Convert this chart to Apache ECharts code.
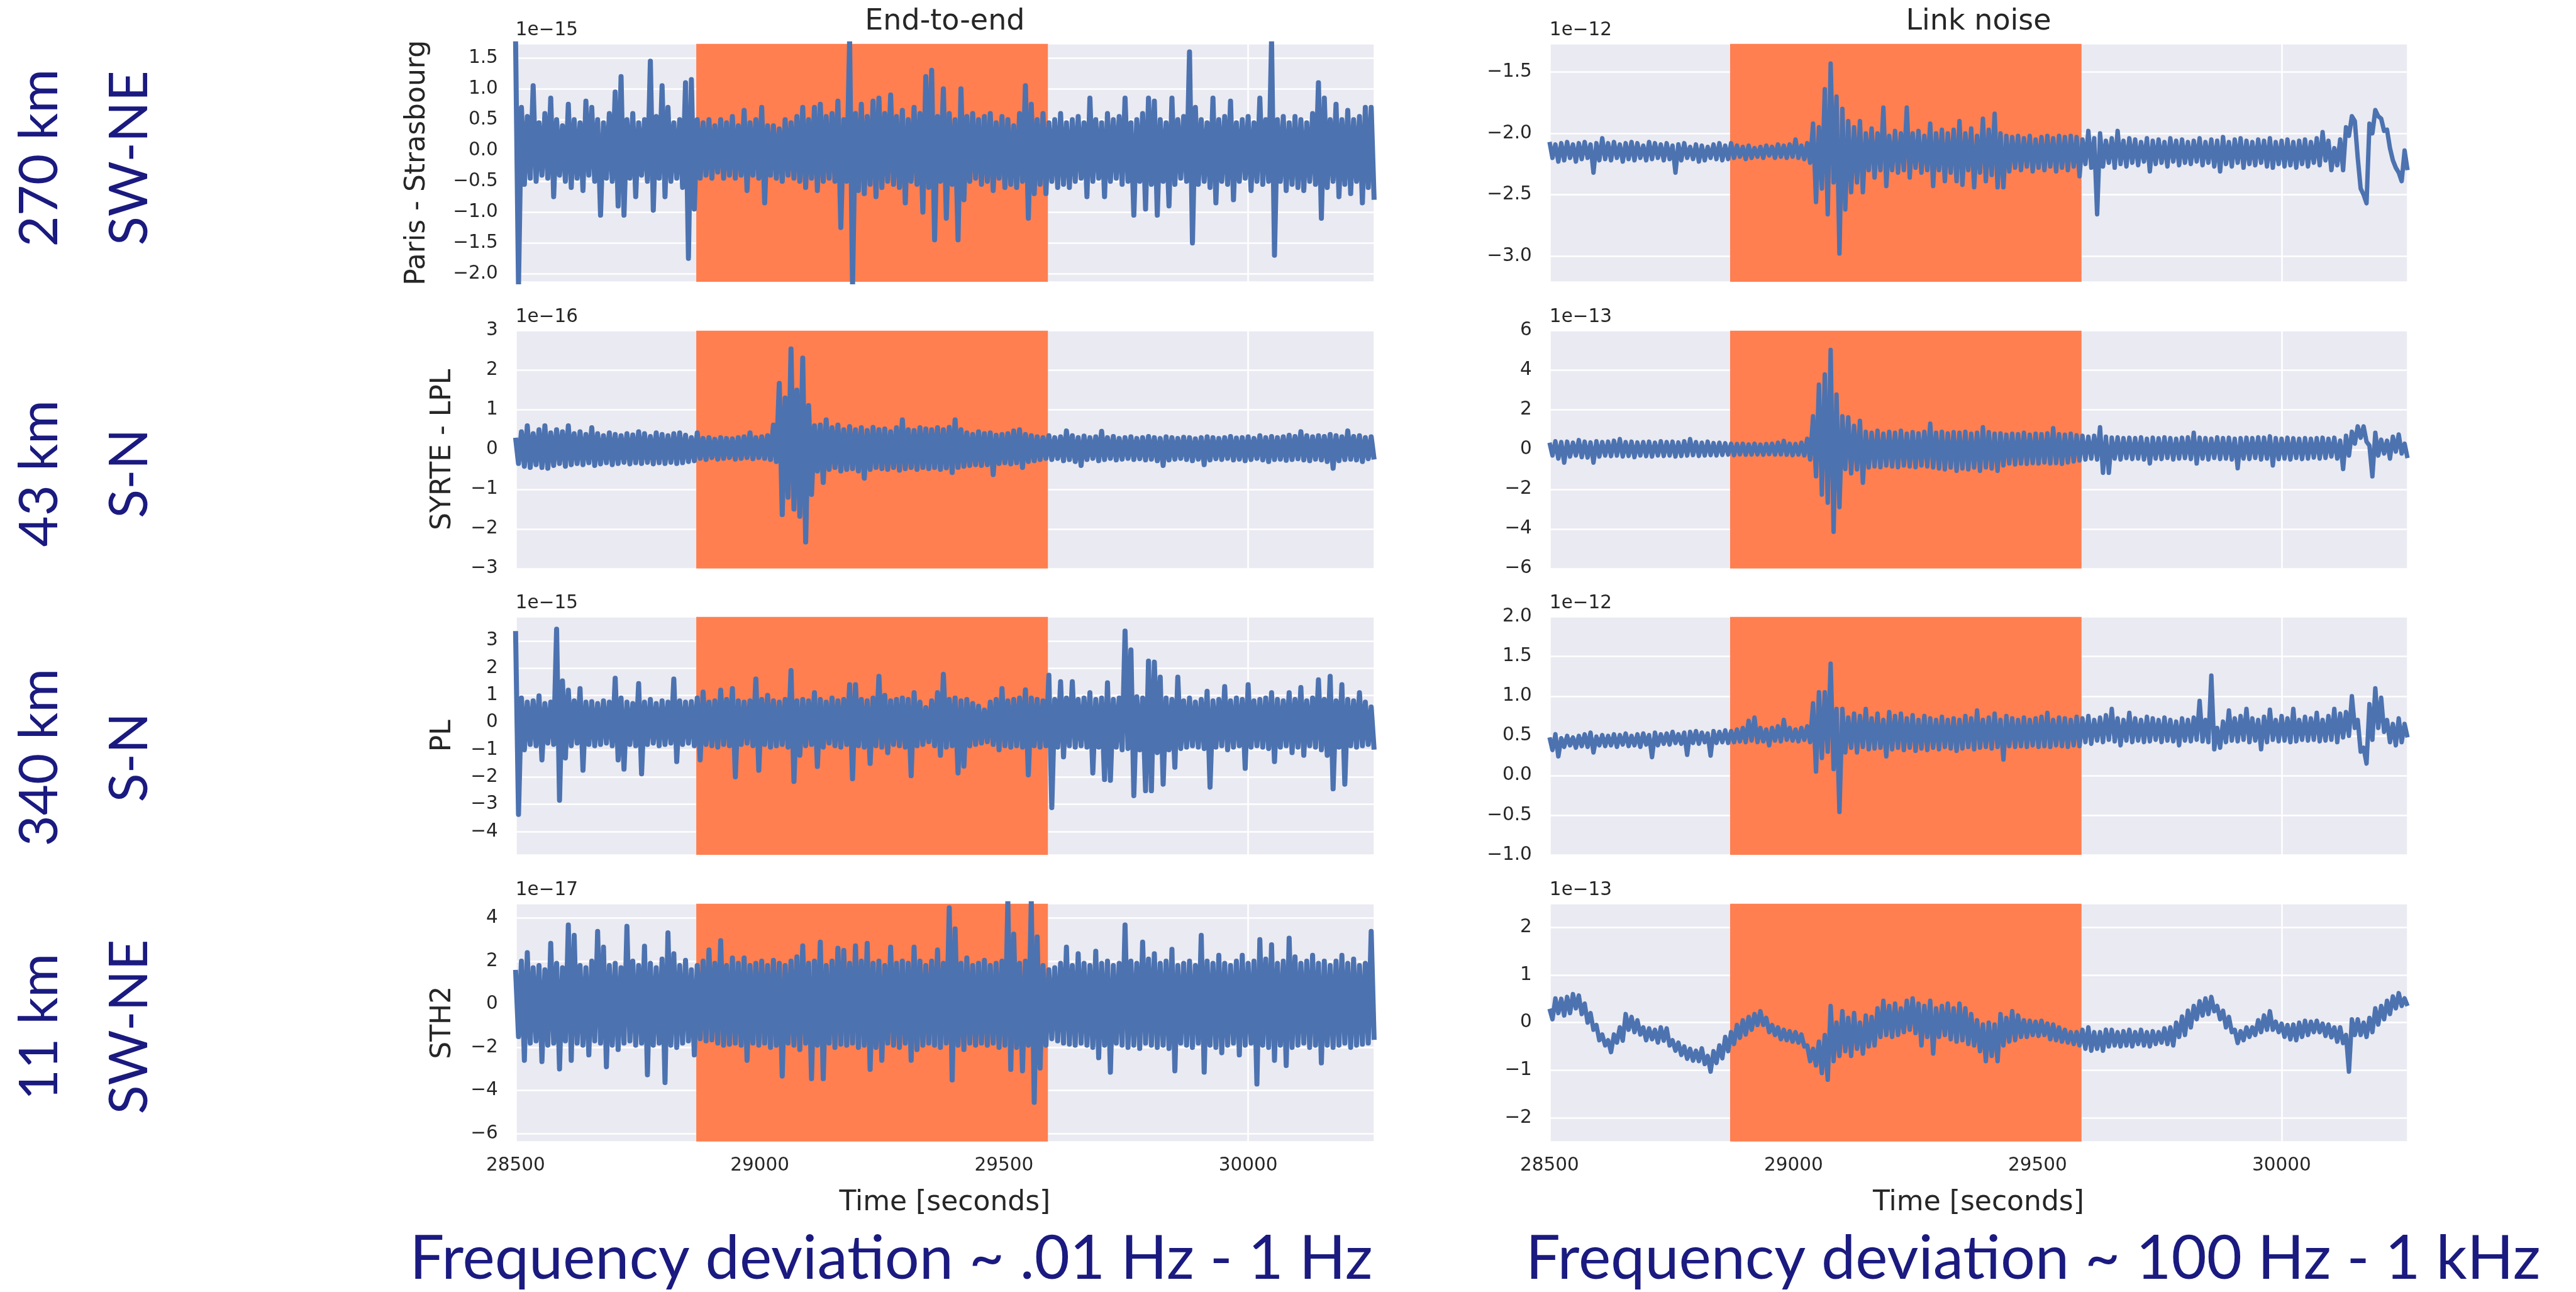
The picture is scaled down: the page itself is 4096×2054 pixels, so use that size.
<!DOCTYPE html>
<html>
<head>
<meta charset="utf-8">
<script src="https://cdn.jsdelivr.net/npm/echarts@6/dist/echarts.min.js"></script>
<style>
  html, body { margin: 0; padding: 0; background: #ffffff; }
  #chart { width: 4096px; height: 2054px; }
</style>
</head>
<body>
<div id="chart"></div>
<script>
// Each trace is stored as an envelope: for every 12 s sample, the upper and
// lower extent of the fractional frequency signal (in units of the axis offset).
const tStart = 28500;
const tStep = 12;
const xMin = 28500;
const xMax = 30258;
const xTicks = [28500, 29000, 29500, 30000];
const eventStart = 28870;
const eventEnd = 29590;

const columnTitles = ['End-to-end', 'Link noise'];
const rowNames = ['Paris - Strasbourg', 'SYRTE - LPL', 'PL', 'STH2'];
const distances = ['270 km', '43 km', '340 km', '11 km'];
const directions = ['SW-NE', 'S-N', 'S-N', 'SW-NE'];
const bandNotes = ['Frequency deviation ~ .01 Hz - 1 Hz', 'Frequency deviation ~ 100 Hz - 1 kHz'];
const xAxisTitle = 'Time [seconds]';

// axis offsets, y ranges and tick steps (row-major: left column, right column)
const offsetLabels = ['1e\u221215', '1e\u221212', '1e\u221216', '1e\u221213', '1e\u221215', '1e\u221212', '1e\u221217', '1e\u221213'];
const yRanges = [[-2.13, 1.73], [-3.21, -1.27], [-3, 3], [-6, 6], [-4.85, 3.88], [-1, 2], [-6.37, 4.67], [-2.5, 2.5]];
const yTickSteps = [0.5, 0.5, 1, 2, 1, 0.5, 2, 1];
const yTickDigits = [1, 1, 0, 0, 0, 1, 0, 0];

// Paris - Strasbourg, end-to-end (1e-15)
const parisE2EHi = [
  1.8, 0.7, 0.55, 1.05, 0.45, 0.6, 0.85, 0.5, 0.4, 0.75,
  0.5, 0.45, 0.8, 0.7, 0.5, 0.45, 0.6, 0.95, 1.2, 0.5,
  0.6, 0.45, 0.5, 1.45, 0.55, 1.05, 0.7, 0.45, 0.5, 1.1,
  1.15, 0.5, 0.45, 0.5, 0.4, 0.5, 0.45, 0.55, 0.4, 0.65,
  0.45, 0.5, 0.7, 0.4, 0.4, 0.35, 0.5, 0.45, 0.55, 0.7,
  0.5, 0.7, 0.75, 0.55, 0.6, 0.8, 0.5, 1.8, 0.6, 0.75,
  0.55, 0.8, 0.85, 0.6, 0.9, 0.55, 0.65, 0.5, 0.7, 0.6,
  1.2, 1.3, 0.55, 1.0, 0.6, 0.5, 1.0, 0.55, 0.6, 0.5,
  0.55, 0.6, 0.45, 0.55, 0.5, 0.4, 0.6, 1.05, 0.75, 0.5,
  0.6, 0.45, 0.5, 0.6, 0.45, 0.5, 0.55, 0.45, 0.85, 0.5,
  0.45, 0.6, 0.5, 0.55, 0.85, 0.45, 0.5, 0.6, 0.85, 0.8,
  0.5, 0.45, 0.85, 0.5, 0.55, 1.6, 0.7, 0.5, 0.45, 0.85,
  0.5, 0.55, 0.8, 0.45, 0.5, 0.55, 0.45, 0.85, 0.5, 1.8,
  0.5, 0.55, 0.45, 0.55, 0.5, 0.45, 0.6, 1.1, 0.85, 0.5,
  0.75, 0.5, 0.65, 0.5, 0.55, 0.7, 0.7
];
const parisE2ELo = [
  -2.2, -0.55, -0.45, -0.5, -0.4, -0.45, -0.75, -0.4, -0.5, -0.6,
  -0.45, -0.65, -0.4, -0.5, -1.05, -0.45, -0.5, -0.9, -1.05, -0.45,
  -0.75, -0.4, -0.5, -0.97, -0.45, -0.75, -0.5, -0.45, -0.6, -1.75,
  -0.95, -0.45, -0.4, -0.45, -0.35, -0.45, -0.4, -0.45, -0.4, -0.65,
  -0.4, -0.45, -0.85, -0.4, -0.45, -0.5, -0.4, -0.45, -0.5, -0.6,
  -0.45, -0.65, -0.5, -0.45, -0.5, -1.25, -0.5, -2.2, -0.65, -0.7,
  -0.55, -0.75, -0.6, -0.5, -0.55, -0.6, -0.85, -0.5, -0.55, -1.0,
  -0.6, -1.45, -0.5, -1.1, -0.55, -1.45, -0.8, -0.5, -0.45, -0.55,
  -0.5, -0.65, -0.45, -0.6, -0.55, -0.6, -0.5, -1.1, -0.7, -0.55,
  -0.7, -0.5, -0.6, -0.55, -0.6, -0.5, -0.45, -0.75, -0.5, -0.45,
  -0.75, -0.5, -0.45, -0.55, -0.5, -1.05, -0.5, -0.95, -0.55, -1.05,
  -0.5, -0.9, -0.55, -0.45, -0.5, -1.5, -0.55, -0.5, -0.6, -0.85,
  -0.5, -0.55, -0.8, -0.5, -0.45, -0.65, -0.5, -0.55, -0.5, -1.7,
  -0.5, -0.65, -0.55, -0.6, -0.65, -0.5, -0.55, -1.1, -0.6, -0.5,
  -0.75, -0.55, -0.7, -0.5, -0.85, -0.6, -0.8
];

// Paris - Strasbourg, link noise (1e-12)
const parisLinkHi = [
  -2.07, -2.09, -2.08, -2.07, -2.09, -2.08, -2.07, -2.09, -2.08, -2.04,
  -2.08, -2.07, -2.09, -2.08, -2.07, -2.08, -2.1, -2.07, -2.08, -2.09,
  -2.08, -2.1, -2.09, -2.08, -2.11, -2.09, -2.1, -2.11, -2.09, -2.08,
  -2.1, -2.08, -2.1, -2.11, -2.1, -2.12, -2.11, -2.1, -2.11, -2.09,
  -2.1, -2.09, -2.05, -2.1, -2.08, -1.92, -1.95, -1.64, -1.43, -1.7,
  -1.8, -1.9, -1.95, -1.9, -2.0, -1.96, -2.0, -1.79, -2.02, -1.98,
  -2.0, -1.79, -2.0, -1.98, -2.02, -1.92, -2.0, -1.97, -2.0, -1.97,
  -1.9, -2.0, -1.96, -2.02, -1.88, -1.97, -1.84, -2.0, -2.02, -2.03,
  -2.02, -2.04, -2.02, -2.05, -2.03, -2.02, -2.04, -2.02, -2.03, -2.02,
  -2.03, -2.05, -1.98, -2.04, -2.0, -2.06, -2.04, -1.98, -2.06, -2.04,
  -2.05, -2.07, -2.04, -2.06, -2.05, -2.07, -2.04, -2.06, -2.05, -2.07,
  -2.06, -2.04, -2.07, -2.05, -2.06, -2.03, -2.07, -2.05, -2.04, -2.06,
  -2.07, -2.05, -2.06, -2.04, -2.07, -2.06, -2.05, -2.07, -2.06, -2.05,
  -2.07, -2.04, -1.99, -2.06, -2.12, -2.05, -1.95, -1.86, -2.2, -2.5,
  -1.92, -1.81, -1.88, -1.97, -2.22, -2.32, -2.14
];
const parisLinkLo = [
  -2.2, -2.23, -2.22, -2.2, -2.23, -2.21, -2.2, -2.32, -2.22, -2.21,
  -2.22, -2.2, -2.23, -2.21, -2.22, -2.2, -2.22, -2.21, -2.2, -2.22,
  -2.21, -2.32, -2.22, -2.2, -2.21, -2.23, -2.22, -2.2, -2.21, -2.22,
  -2.21, -2.2, -2.19, -2.21, -2.2, -2.19, -2.2, -2.18, -2.2, -2.19,
  -2.2, -2.19, -2.2, -2.21, -2.24, -2.56, -2.45, -2.66, -2.4, -2.98,
  -2.62, -2.48, -2.4, -2.48, -2.3, -2.36, -2.3, -2.43, -2.3, -2.32,
  -2.3, -2.36, -2.28, -2.32, -2.3, -2.43, -2.3, -2.39, -2.32, -2.39,
  -2.42, -2.3, -2.44, -2.32, -2.39, -2.34, -2.44, -2.44, -2.31, -2.28,
  -2.3, -2.27, -2.31, -2.28, -2.3, -2.27, -2.31, -2.28, -2.3, -2.27,
  -2.35, -2.25, -2.28, -2.66, -2.27, -2.24, -2.28, -2.25, -2.27, -2.24,
  -2.26, -2.23, -2.31, -2.25, -2.24, -2.27, -2.23, -2.26, -2.24, -2.25,
  -2.23, -2.26, -2.24, -2.27, -2.31, -2.25, -2.27, -2.24, -2.28, -2.25,
  -2.26, -2.24, -2.27, -2.28, -2.25, -2.27, -2.26, -2.28, -2.25, -2.27,
  -2.24, -2.26, -2.22, -2.3, -2.26, -2.3, -2.02, -1.9, -2.45, -2.57,
  -2.0, -1.86, -1.98, -2.12, -2.28, -2.39, -2.3
];

// SYRTE - LPL, end-to-end (1e-16)
const syrteE2EHi = [
  0.3, 0.45, 0.6, 0.4, 0.5, 0.6, 0.42, 0.5, 0.45, 0.6,
  0.4, 0.45, 0.38, 0.55, 0.4, 0.35, 0.42, 0.38, 0.35, 0.4,
  0.37, 0.45, 0.4, 0.33, 0.42, 0.38, 0.35, 0.4, 0.42, 0.36,
  0.3, 0.42, 0.28, 0.3, 0.26, 0.3, 0.28, 0.27, 0.3, 0.32,
  0.42, 0.3, 0.32, 0.35, 0.62, 1.67, 1.3, 2.54, 1.5, 2.31,
  1.11, 0.6, 0.62, 0.75, 0.55, 0.62, 0.5, 0.58, 0.5, 0.55,
  0.48, 0.56, 0.5, 0.52, 0.45, 0.55, 0.75, 0.5, 0.48, 0.55,
  0.52, 0.5, 0.55, 0.5, 0.56, 0.75, 0.5, 0.42, 0.38, 0.45,
  0.4, 0.42, 0.36, 0.38, 0.4, 0.47, 0.5, 0.38, 0.35, 0.32,
  0.3, 0.35, 0.3, 0.32, 0.47, 0.35, 0.3, 0.34, 0.3, 0.32,
  0.46, 0.3, 0.33, 0.28, 0.3, 0.32, 0.28, 0.3, 0.33, 0.3,
  0.28, 0.32, 0.3, 0.28, 0.31, 0.3, 0.27, 0.3, 0.32, 0.3,
  0.28, 0.3, 0.33, 0.29, 0.3, 0.32, 0.28, 0.35, 0.3, 0.33,
  0.3, 0.32, 0.36, 0.33, 0.45, 0.35, 0.32, 0.35, 0.33, 0.38,
  0.35, 0.32, 0.47, 0.33, 0.35, 0.3, 0.32
];
const syrteE2ELo = [
  -0.35, -0.42, -0.45, -0.38, -0.45, -0.47, -0.4, -0.35, -0.42, -0.38,
  -0.35, -0.38, -0.33, -0.4, -0.36, -0.33, -0.38, -0.35, -0.32, -0.36,
  -0.33, -0.35, -0.32, -0.36, -0.33, -0.35, -0.32, -0.35, -0.33, -0.3,
  -0.28, -0.22, -0.25, -0.2, -0.24, -0.22, -0.2, -0.24, -0.22, -0.2,
  -0.23, -0.2, -0.22, -0.25, -0.3, -1.64, -1.2, -1.5, -1.68, -2.33,
  -1.13, -0.54, -0.83, -0.5, -0.45, -0.54, -0.5, -0.48, -0.54, -0.72,
  -0.5, -0.45, -0.48, -0.5, -0.45, -0.52, -0.48, -0.45, -0.5, -0.45,
  -0.48, -0.45, -0.5, -0.46, -0.58, -0.45, -0.42, -0.4, -0.38, -0.4,
  -0.38, -0.63, -0.35, -0.33, -0.36, -0.33, -0.45, -0.3, -0.28, -0.25,
  -0.22, -0.25, -0.22, -0.28, -0.25, -0.3, -0.4, -0.25, -0.22, -0.28,
  -0.25, -0.22, -0.26, -0.24, -0.22, -0.25, -0.23, -0.26, -0.24, -0.28,
  -0.4, -0.26, -0.24, -0.22, -0.25, -0.28, -0.24, -0.38, -0.26, -0.23,
  -0.25, -0.22, -0.26, -0.24, -0.28, -0.25, -0.22, -0.26, -0.3, -0.25,
  -0.24, -0.27, -0.25, -0.23, -0.26, -0.28, -0.24, -0.26, -0.3, -0.47,
  -0.28, -0.25, -0.24, -0.26, -0.3, -0.23, -0.25
];

// SYRTE - LPL, link noise (1e-13)
const syrteLinkHi = [
  0.35, 0.42, 0.38, 0.4, 0.35, 0.48, 0.4, 0.36, 0.42, 0.38,
  0.4, 0.45, 0.53, 0.38, 0.4, 0.36, 0.38, 0.4, 0.35, 0.42,
  0.38, 0.4, 0.36, 0.42, 0.53, 0.38, 0.35, 0.4, 0.33, 0.35,
  0.32, 0.3, 0.28, 0.3, 0.26, 0.3, 0.25, 0.28, 0.3, 0.35,
  0.44, 0.3, 0.28, 0.35, 0.55, 1.68, 3.28, 3.79, 5.03, 2.78,
  1.68, 1.63, 1.2, 1.45, 0.9, 0.85, 0.95, 0.8, 0.9, 0.85,
  0.95, 0.8, 0.88, 0.82, 0.9, 1.31, 0.85, 0.9, 0.82, 0.88,
  0.85, 0.9, 0.8, 0.85, 1.13, 0.88, 0.8, 0.82, 0.75, 0.8,
  0.78, 0.85, 0.75, 0.8, 0.78, 0.82, 1.08, 0.78, 0.75, 0.8,
  0.72, 0.7, 0.65, 0.7, 1.13, 0.65, 0.6, 0.62, 0.58, 0.6,
  0.58, 0.62, 0.55, 0.6, 0.57, 0.62, 0.58, 0.55, 0.6, 0.62,
  0.85, 0.6, 0.58, 0.55, 0.62, 0.58, 0.6, 0.55, 0.58, 0.6,
  0.58, 0.62, 0.6, 0.67, 0.58, 0.55, 0.6, 0.57, 0.55, 0.58,
  0.55, 0.58, 0.6, 0.55, 0.6, 0.45, 0.7, 0.9, 1.17, 1.17,
  0.2, 0.85, 0.5, 0.45, 0.65, 0.76, 0.3
];
const syrteLinkLo = [
  -0.3, -0.45, -0.66, -0.35, -0.3, -0.38, -0.4, -0.66, -0.35, -0.3,
  -0.33, -0.3, -0.35, -0.32, -0.38, -0.3, -0.33, -0.35, -0.3, -0.32,
  -0.3, -0.35, -0.32, -0.3, -0.28, -0.32, -0.3, -0.28, -0.3, -0.27,
  -0.25, -0.28, -0.24, -0.26, -0.25, -0.24, -0.26, -0.23, -0.25, -0.24,
  -0.26, -0.28, -0.25, -0.3, -0.5, -1.35, -2.27, -2.68, -4.15, -2.9,
  -0.98, -1.2, -1.0, -1.67, -0.9, -0.85, -0.89, -0.8, -0.85, -0.89,
  -0.8, -0.85, -0.89, -0.8, -0.85, -0.9, -0.95, -1.0, -0.9, -1.07,
  -0.95, -1.0, -0.9, -1.07, -0.9, -0.95, -1.07, -0.8, -0.7, -0.75,
  -0.7, -0.72, -0.68, -0.7, -0.65, -0.7, -0.68, -0.72, -0.65, -0.6,
  -0.55, -0.5, -0.45, -0.5, -1.17, -1.17, -0.45, -0.5, -0.43, -0.48,
  -0.45, -0.5, -0.7, -0.45, -0.48, -0.42, -0.5, -0.45, -0.43, -0.48,
  -0.7, -0.45, -0.5, -0.42, -0.48, -0.45, -0.5, -0.94, -0.45, -0.48,
  -0.42, -0.5, -0.45, -0.8, -0.48, -0.45, -0.5, -0.42, -0.48, -0.45,
  -0.4, -0.45, -0.42, -0.35, -0.45, -0.98, -0.3, 0.3, 0.6, 0.4,
  -1.35, -0.3, -0.2, -0.45, -0.1, -0.2, -0.43
];

// PL, end-to-end (1e-15)
const plE2EHi = [
  3.36, 0.9, 0.75, 0.8, 0.98, 0.7, 0.75, 3.43, 1.53, 1.19,
  0.8, 1.25, 0.75, 0.77, 0.7, 0.8, 0.75, 1.63, 0.9, 0.75,
  0.7, 1.43, 0.75, 0.85, 0.7, 0.8, 0.75, 1.6, 0.8, 0.75,
  0.77, 0.9, 1.12, 0.75, 0.8, 1.19, 0.85, 1.25, 0.8, 0.75,
  0.8, 1.6, 0.85, 1.0, 0.8, 0.75, 0.85, 1.91, 0.8, 0.85,
  0.8, 1.1, 0.85, 0.75, 0.9, 0.8, 0.85, 1.39, 1.39, 0.85,
  0.8, 0.9, 1.7, 1.0, 0.8, 0.85, 0.9, 0.85, 1.1, 0.75,
  0.55, 0.8, 1.1, 1.77, 0.85, 0.9, 0.8, 0.85, 0.7, 0.6,
  0.46, 0.75, 0.85, 1.25, 0.8, 0.85, 0.9, 1.2, 0.9, 0.85,
  0.8, 1.74, 0.85, 1.5, 0.9, 1.5, 0.85, 0.9, 1.1, 0.85,
  0.9, 1.46, 0.85, 0.9, 3.36, 2.67, 0.95, 0.9, 2.26, 2.22,
  1.67, 0.9, 0.85, 1.67, 0.8, 0.9, 0.75, 0.85, 1.15, 0.8,
  0.85, 1.32, 0.8, 0.9, 0.85, 1.39, 0.8, 0.85, 0.9, 1.1,
  0.85, 0.8, 1.1, 0.85, 1.29, 0.8, 0.9, 1.57, 0.85, 1.7,
  0.8, 1.39, 0.85, 0.8, 1.1, 0.75, 0.57
];
const plE2ELo = [
  -3.37, -1.0, -0.8, -0.85, -1.37, -0.75, -0.8, -2.85, -1.3, -0.85,
  -0.75, -1.75, -0.8, -0.85, -0.8, -0.75, -0.85, -1.37, -1.71, -0.8,
  -0.85, -1.88, -0.8, -0.75, -0.85, -0.8, -0.75, -1.43, -0.8, -0.75,
  -0.85, -1.37, -0.8, -0.85, -0.9, -0.8, -0.85, -1.99, -0.8, -0.75,
  -0.85, -1.75, -0.8, -0.9, -0.85, -0.8, -0.9, -2.16, -1.2, -0.85,
  -0.8, -1.61, -0.9, -0.75, -0.85, -0.9, -0.8, -2.06, -0.85, -0.9,
  -1.5, -0.85, -0.9, -1.1, -0.8, -0.85, -0.9, -1.95, -0.85, -0.8,
  -0.7, -0.85, -1.2, -0.9, -0.85, -1.85, -1.6, -0.85, -0.8, -0.75,
  -0.7, -0.8, -1.0, -0.85, -0.9, -0.85, -0.9, -1.92, -0.85, -0.9,
  -0.85, -3.12, -0.9, -1.26, -0.85, -0.9, -0.85, -0.9, -1.85, -0.9,
  -2.09, -2.12, -0.9, -1.0, -0.95, -2.68, -1.0, -2.5, -2.5, -1.1,
  -2.26, -1.0, -1.64, -0.95, -0.9, -0.85, -0.9, -0.95, -2.37, -0.9,
  -0.85, -1.0, -0.9, -0.85, -1.68, -0.9, -0.85, -0.9, -0.95, -1.43,
  -0.9, -0.85, -1.1, -0.9, -1.2, -0.85, -0.9, -1.0, -1.2, -2.43,
  -0.9, -2.26, -0.85, -0.9, -0.85, -0.8, -0.99
];

// PL, link noise (1e-12)
const plLinkHi = [
  0.48, 0.52, 0.47, 0.5, 0.48, 0.5, 0.52, 0.54, 0.49, 0.51,
  0.5, 0.52, 0.51, 0.53, 0.5, 0.52, 0.53, 0.51, 0.54, 0.52,
  0.53, 0.55, 0.52, 0.54, 0.55, 0.56, 0.54, 0.53, 0.56, 0.55,
  0.57, 0.56, 0.58, 0.6, 0.69, 0.73, 0.6, 0.58, 0.6, 0.62,
  0.7, 0.6, 0.58, 0.6, 0.62, 0.91, 1.05, 1.05, 1.41, 0.84,
  0.84, 0.73, 0.78, 0.75, 0.84, 0.72, 0.78, 0.7, 0.8, 0.75,
  0.78, 0.72, 0.76, 0.7, 0.75, 0.72, 0.7, 0.74, 0.7, 0.72,
  0.7, 0.75, 0.72, 0.82, 0.7, 0.73, 0.78, 0.7, 0.75, 0.72,
  0.7, 0.73, 0.7, 0.72, 0.74, 0.79, 0.7, 0.73, 0.72, 0.7,
  0.74, 0.72, 0.75, 0.7, 0.73, 0.76, 0.84, 0.72, 0.7, 0.79,
  0.72, 0.7, 0.74, 0.72, 0.7, 0.73, 0.7, 0.68, 0.72, 0.7,
  0.73, 0.94, 0.7, 1.26, 0.6, 0.68, 0.82, 0.72, 0.75, 0.84,
  0.72, 0.7, 0.74, 0.83, 0.7, 0.75, 0.72, 0.84, 0.7, 0.74,
  0.72, 0.79, 0.7, 0.75, 0.84, 0.78, 0.8, 1.0, 0.7, 0.35,
  0.9, 1.1, 0.98, 0.7, 0.65, 0.72, 0.65
];
const plLinkLo = [
  0.32, 0.24, 0.36, 0.38, 0.35, 0.37, 0.36, 0.29, 0.38, 0.37,
  0.38, 0.36, 0.39, 0.37, 0.38, 0.36, 0.39, 0.23, 0.38, 0.4,
  0.39, 0.41, 0.4, 0.26, 0.41, 0.4, 0.42, 0.25, 0.41, 0.42,
  0.41, 0.42, 0.43, 0.42, 0.44, 0.42, 0.43, 0.38, 0.44, 0.43,
  0.45, 0.44, 0.43, 0.45, 0.42, 0.05, 0.22, 0.3, 0.08, -0.46,
  0.29, 0.35, 0.29, 0.36, 0.33, 0.34, 0.35, 0.24, 0.33, 0.35,
  0.32, 0.35, 0.31, 0.34, 0.32, 0.35, 0.33, 0.36, 0.34, 0.31,
  0.34, 0.36, 0.33, 0.35, 0.36, 0.34, 0.36, 0.2, 0.37, 0.36,
  0.37, 0.36, 0.38, 0.36, 0.37, 0.36, 0.38, 0.37, 0.36, 0.38,
  0.37, 0.42, 0.4, 0.44, 0.42, 0.45, 0.43, 0.38, 0.44, 0.42,
  0.44, 0.42, 0.43, 0.45, 0.42, 0.44, 0.43, 0.38, 0.44, 0.43,
  0.45, 0.43, 0.42, 0.33, 0.35, 0.42, 0.44, 0.43, 0.45, 0.42,
  0.44, 0.33, 0.42, 0.45, 0.43, 0.44, 0.42, 0.43, 0.45, 0.44,
  0.45, 0.43, 0.44, 0.45, 0.42, 0.48, 0.5, 0.6, 0.3, 0.15,
  0.45, 0.6, 0.55, 0.42, 0.38, 0.42, 0.48
];

// STH2, end-to-end (1e-17)
const sthE2EHi = [
  1.6, 2.0, 2.4, 1.7, 1.8, 1.6, 2.83, 1.9, 1.7, 3.68,
  3.2, 1.8, 1.7, 2.0, 3.38, 2.65, 1.8, 1.9, 1.7, 3.62,
  2.0, 1.8, 2.7, 1.9, 1.7, 2.1, 3.32, 2.35, 1.8, 2.04,
  1.6, 1.8, 2.0, 2.52, 1.9, 2.95, 1.8, 2.15, 1.9, 2.15,
  1.8, 1.9, 2.0, 1.8, 2.04, 1.9, 1.8, 2.0, 2.2, 2.71,
  1.9, 2.0, 2.89, 1.8, 2.0, 2.6, 2.5, 1.9, 2.71, 2.0,
  2.83, 1.9, 2.0, 1.8, 2.65, 1.9, 2.0, 1.9, 2.65, 2.0,
  1.8, 2.0, 2.52, 1.9, 4.48, 3.5, 1.9, 2.15, 1.8, 1.9,
  2.04, 1.8, 1.9, 2.0, 4.8, 3.26, 1.9, 2.0, 4.8, 3.13,
  1.8, 1.6, 1.7, 1.9, 2.65, 1.8, 2.35, 1.9, 1.8, 2.46,
  1.9, 2.0, 1.8, 1.9, 3.68, 2.0, 1.9, 2.89, 2.1, 2.35,
  1.9, 2.0, 2.55, 1.8, 1.9, 2.0, 1.8, 3.2, 2.0, 1.9,
  2.27, 1.9, 1.8, 2.0, 2.27, 1.9, 2.0, 3.0, 2.1, 2.76,
  1.9, 2.0, 3.07, 2.2, 1.9, 2.0, 2.27, 1.9, 2.0, 1.8,
  2.0, 2.27, 1.9, 2.1, 1.8, 1.9, 3.38
];
const sthE2ELo = [
  -1.5, -2.6, -1.8, -1.7, -2.66, -1.9, -1.8, -3.0, -1.7, -2.6,
  -1.8, -1.9, -2.35, -1.7, -1.8, -2.9, -1.9, -2.1, -1.8, -1.7,
  -1.9, -1.8, -3.27, -1.9, -1.8, -3.63, -1.9, -2.0, -1.8, -1.7,
  -2.35, -1.6, -1.7, -1.65, -1.8, -1.9, -1.85, -1.8, -1.9, -2.6,
  -1.8, -1.9, -1.8, -2.0, -1.9, -3.33, -1.8, -1.9, -2.1, -1.8,
  -3.45, -1.9, -3.45, -1.8, -2.0, -1.85, -1.9, -1.8, -2.0, -1.9,
  -3.02, -2.0, -2.6, -1.8, -1.9, -2.0, -1.8, -2.6, -2.1, -1.9,
  -1.8, -1.9, -2.0, -1.8, -3.51, -1.9, -2.1, -1.8, -1.9, -1.8,
  -1.9, -1.8, -2.0, -1.9, -3.02, -2.0, -3.09, -1.9, -4.55, -2.96,
  -1.9, -1.6, -1.7, -1.8, -1.85, -1.9, -1.8, -1.9, -2.0, -2.48,
  -1.9, -3.15, -1.8, -1.9, -2.0, -1.9, -2.05, -1.8, -1.9, -2.0,
  -1.9, -2.05, -3.09, -1.8, -1.9, -2.0, -1.8, -3.15, -1.9, -2.0,
  -2.25, -1.9, -1.8, -2.35, -1.9, -1.8, -3.7, -1.9, -2.0, -2.6,
  -1.9, -2.84, -2.0, -1.9, -1.8, -2.0, -1.9, -2.72, -1.9, -2.0,
  -1.9, -1.8, -2.0, -1.9, -1.85, -1.8, -1.65
];

// STH2, link noise (1e-13)
const sthLinkHi = [
  0.29, 0.51, 0.5, 0.54, 0.6, 0.57, 0.4, 0.2, -0.05, -0.25,
  -0.37, -0.25, -0.1, 0.18, 0.12, 0.05, -0.1, -0.12, -0.15, -0.1,
  -0.12, -0.37, -0.42, -0.5, -0.55, -0.59, -0.54, -0.7, -0.6, -0.48,
  -0.3, -0.2, -0.05, 0.05, 0.12, 0.18, 0.24, 0.1, -0.05, -0.1,
  -0.15, -0.18, -0.2, -0.25, -0.48, -0.55, -0.4, -0.26, 0.35, 0.0,
  0.24, 0.1, 0.2, 0.0, 0.15, 0.12, 0.3, 0.46, 0.35, 0.4,
  0.3, 0.46, 0.51, 0.4, 0.35, 0.46, 0.3, 0.35, 0.4, 0.3,
  0.4, 0.3, 0.18, 0.05, -0.04, 0.0, -0.04, 0.18, 0.1, 0.24,
  0.15, 0.05, 0.04, 0.02, 0.04, -0.02, -0.04, -0.1, -0.15, -0.2,
  -0.2, -0.15, -0.1, -0.2, -0.2, -0.15, -0.15, -0.2, -0.18, -0.15,
  -0.2, -0.15, -0.2, -0.18, -0.2, -0.12, -0.1, 0.0, 0.13, 0.25,
  0.35, 0.45, 0.51, 0.54, 0.35, 0.25, 0.12, -0.15, -0.18, -0.1,
  -0.1, 0.05, 0.15, 0.24, 0.02, -0.02, -0.05, -0.04, 0.0, 0.04,
  0.02, 0.04, -0.02, -0.04, -0.1, -0.1, -0.26, 0.07, 0.07, 0.0,
  0.1, 0.3, 0.35, 0.46, 0.55, 0.62, 0.51
];
const sthLinkLo = [
  0.07, 0.2, 0.15, 0.2, 0.3, 0.18, 0.0, -0.15, -0.37, -0.48,
  -0.62, -0.42, -0.38, -0.15, -0.2, -0.25, -0.37, -0.35, -0.42, -0.38,
  -0.48, -0.59, -0.68, -0.76, -0.8, -0.81, -0.87, -1.03, -0.85, -0.75,
  -0.6, -0.45, -0.32, -0.25, -0.15, -0.05, -0.05, -0.2, -0.26, -0.35,
  -0.37, -0.4, -0.42, -0.5, -0.81, -0.9, -1.06, -1.2, -0.81, -0.7,
  -0.6, -0.7, -0.55, -0.65, -0.5, -0.48, -0.3, -0.26, -0.3, -0.26,
  -0.2, -0.15, -0.22, -0.48, -0.3, -0.65, -0.3, -0.26, -0.35, -0.4,
  -0.37, -0.45, -0.48, -0.6, -0.81, -0.7, -0.81, -0.48, -0.4, -0.37,
  -0.3, -0.3, -0.26, -0.28, -0.26, -0.35, -0.37, -0.4, -0.42, -0.45,
  -0.48, -0.55, -0.59, -0.55, -0.59, -0.5, -0.48, -0.5, -0.48, -0.5,
  -0.45, -0.48, -0.5, -0.45, -0.42, -0.45, -0.48, -0.3, -0.26, -0.1,
  0.07, 0.15, 0.18, 0.24, 0.07, -0.1, -0.2, -0.43, -0.37, -0.3,
  -0.26, -0.2, -0.15, -0.15, -0.2, -0.3, -0.35, -0.37, -0.3, -0.26,
  -0.2, -0.2, -0.28, -0.31, -0.4, -0.43, -1.03, -0.26, -0.26, -0.3,
  -0.2, -0.04, 0.07, 0.18, 0.3, 0.35, 0.35
];

const panelHi = [parisE2EHi, parisLinkHi, syrteE2EHi, syrteLinkHi, plE2EHi, plLinkHi, sthE2EHi, sthLinkHi];
const panelLo = [parisE2ELo, parisLinkLo, syrteE2ELo, syrteLinkLo, plE2ELo, plLinkLo, sthE2ELo, sthLinkLo];

// ---------------------------------------------------------------- layout
const S = 0.894;
const colLeft = [917 * S, 2756 * S];
const colWidth = [1527 * S, 1526 * S];
const rowTop = [78 * S, 588 * S, 1097 * S, 1607 * S];
const rowHeight = 423 * S;
const ink = '#262626';
const navy = '#1a1a80';
const traceBlue = '#4c72b0';
const eventOrange = '#ff7f50';
const panelBg = '#eaeaf2';
const axisFont = 'DejaVu Sans';
const tickSize = 29.5;
// densely sampled traces, drawn with a heavy stroke
const traceWidth = [8, 7];

function envelopePoints(hi, lo) {
  const pts = [];
  for (let i = 0; i < hi.length; i++) {
    const t = tStart + i * tStep;
    pts.push([t, hi[i]]);
    pts.push([t + tStep / 2, lo[i]]);
  }
  return pts;
}

function tickFormatter(step, digits) {
  return function (v) {
    const k = v / step;
    if (Math.abs(k - Math.round(k)) > 1e-6) return '';
    const s = Math.abs(v).toFixed(digits);
    return (v < -1e-9 ? '\u2212' : '') + s;
  };
}

const grids = [], xAxes = [], yAxes = [], series = [], graphics = [];

for (let r = 0; r < 4; r++) {
  for (let c = 0; c < 2; c++) {
    const k = r * 2 + c;
    const isBottom = r === 3;
    grids.push({
      left: colLeft[c], top: rowTop[r], width: colWidth[c], height: rowHeight,
      show: true, backgroundColor: panelBg, borderWidth: 0
    });
    xAxes.push({
      type: 'value', gridIndex: k, min: xMin, max: xMax, splitNumber: 4,
      axisLine: { show: false }, axisTick: { show: false },
      axisLabel: {
        show: isBottom, margin: 24, color: ink, fontFamily: axisFont, fontSize: tickSize,
        formatter: v => (xTicks.indexOf(Math.round(v)) >= 0 && Math.abs(v - Math.round(v)) < 1e-6 ? String(Math.round(v)) : '')
      },
      splitLine: { show: true, lineStyle: { color: '#ffffff', width: 2.5 } },
      name: isBottom ? xAxisTitle : '',
      nameLocation: 'middle', nameGap: 76,
      nameTextStyle: { color: ink, fontFamily: axisFont, fontSize: 44 }
    });
    const yr = yRanges[k];
    const step = yTickSteps[k];
    yAxes.push({
      type: 'value', gridIndex: k, min: yr[0], max: yr[1],
      splitNumber: Math.round((yr[1] - yr[0]) / step),
      axisLine: { show: false }, axisTick: { show: false },
      axisLabel: {
        margin: 28, color: ink, fontFamily: axisFont, fontSize: tickSize,
        formatter: tickFormatter(step, yTickDigits[k])
      },
      splitLine: { show: true, lineStyle: { color: '#ffffff', width: 2.5 } },
      name: c === 0 ? rowNames[r] : '',
      nameLocation: 'middle', nameRotate: 90,
      nameGap: r === 0 ? 134 : 93,
      nameTextStyle: { color: ink, fontFamily: axisFont, fontSize: 44 }
    });
    series.push({
      type: 'line', xAxisIndex: k, yAxisIndex: k,
      data: envelopePoints(panelHi[k], panelLo[k]),
      showSymbol: false, symbol: 'none', animation: false,
      lineStyle: { color: traceBlue, width: traceWidth[c], join: 'round' },
      markArea: {
        silent: true,
        itemStyle: { color: eventOrange, opacity: 1 },
        data: [[{ xAxis: eventStart }, { xAxis: eventEnd }]]
      }
    });
    // axis offset text above each panel
    graphics.push({
      type: 'text', x: colLeft[c], y: rowTop[r] - 21.5,
      style: { text: offsetLabels[k], fill: ink, fontFamily: axisFont, fontSize: tickSize, align: 'left', verticalAlign: 'middle' }
    });
  }
}

// column titles
for (let c = 0; c < 2; c++) {
  graphics.push({
    type: 'text', x: colLeft[c] + colWidth[c] / 2, y: 35,
    style: { text: columnTitles[c], fill: ink, fontFamily: axisFont, fontSize: 46, align: 'center', verticalAlign: 'middle' }
  });
}

// frequency band notes under each column
const noteCenters = [1585 * S, 3616 * S];
for (let c = 0; c < 2; c++) {
  graphics.push({
    type: 'text', x: noteCenters[c], y: 2002,
    style: { text: bandNotes[c], fill: navy, fontFamily: 'Lato', fontSize: 97, align: 'center', verticalAlign: 'middle' }
  });
}

// link length and orientation, written vertically on the left
const rowLabelCenters = [281 * S, 842 * S, 1347 * S, 1826 * S];
for (let r = 0; r < 4; r++) {
  graphics.push({
    type: 'text', x: 64, y: rowLabelCenters[r], rotation: Math.PI / 2,
    style: { text: distances[r], fill: navy, fontFamily: 'Lato', fontSize: 85, align: 'center', verticalAlign: 'middle' }
  });
  graphics.push({
    type: 'text', x: 207, y: rowLabelCenters[r], rotation: Math.PI / 2,
    style: { text: directions[r], fill: navy, fontFamily: 'Lato', fontSize: 85, align: 'center', verticalAlign: 'middle' }
  });
}

const chart = echarts.init(document.getElementById('chart'), null, { renderer: 'canvas' });
chart.setOption({
  backgroundColor: '#ffffff',
  animation: false,
  grid: grids,
  xAxis: xAxes,
  yAxis: yAxes,
  series: series,
  graphic: graphics
});
</script>
</body>
</html>
